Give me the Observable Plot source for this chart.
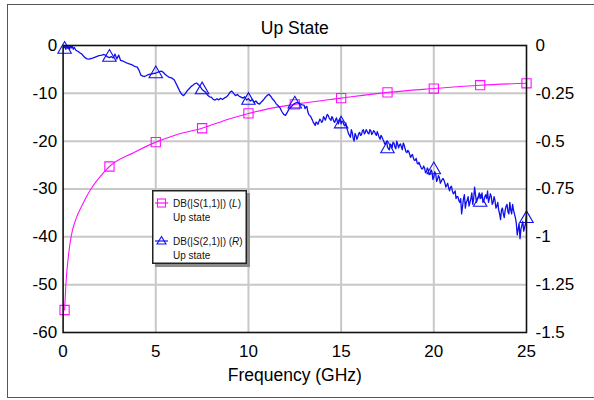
<!DOCTYPE html>
<html>
<head>
<meta charset="utf-8">
<script src="https://cdn.jsdelivr.net/npm/d3@7"></script>
<script src="https://cdn.jsdelivr.net/npm/@observablehq/plot@0.6"></script>
<style>
  html, body { margin: 0; padding: 0; background: #fff; overflow: hidden; }
  #wrap { position: relative; width: 594px; height: 400px; overflow: hidden; font-family: "Liberation Sans", Arial, Helvetica, sans-serif; }
  #border { position: absolute; left: 7px; top: 4px; width: 620px; height: 392px; border: 1.5px solid #555; box-sizing: content-box; }
  #chart { position: absolute; left: 0; top: 0; }
  #legend { position: absolute; left: 152px; top: 190px; }
</style>
</head>
<body>
<div id="wrap">
  <div id="border"></div>
  <div id="chart"></div>
  <div id="legend"></div>
</div>
<script>
// ---- Data ----
const titleText = "Up State";
const xLabel = "Frequency (GHz)";
const freqTicks = [0, 5, 10, 15, 20, 25];
const leftTicks = [0, -10, -20, -30, -40, -50, -60];
const rightTicks = [0, -0.25, -0.5, -0.75, -1, -1.25, -1.5];
const legendLabels = ["DB(|S(1,1)|) (L)", "DB(|S(2,1)|) (R)"];
const legendSub = "Up state";

// S11 in dB (left axis): [GHz, dB]
const s11 = [[0.08,-55.3],[0.15,-50],[0.3,-43.5],[0.45,-39.6],[0.7,-36.2],[1.0,-33.6],[1.5,-30],[2.0,-27.4],[2.5,-25.3],[3.8,-22.4],[5,-20.2],[6,-18.8],[7.5,-17.3],[9,-15.3],[10,-14.2],[11,-13.3],[12.5,-12.3],[15,-11.0],[17.5,-9.8],[20,-9.0],[22.5,-8.3],[25,-7.9]];
const s11Markers = [[0.08,-55.3],[2.5,-25.3],[5,-20.2],[7.5,-17.3],[10,-14.2],[12.5,-12.3],[15,-11.0],[17.5,-9.8],[20,-9.0],[22.5,-8.3],[25,-7.9]];

// S21 in dB (right axis): [GHz, dB] — main trace readings
const s21Main = [[0.02,-0.01],[0.05,-0.012],[0.1,0.0],[0.15,-0.02],[0.2,0.0],[0.25,-0.015],[0.3,-0.002],[0.35,-0.02],[0.4,0.0],[0.45,-0.012],[0.5,-0.005],[0.55,-0.02],[0.6,-0.01],[0.7,-0.026],[0.8,-0.03],[0.9,-0.038],[1.0,-0.044],[1.1,-0.055],[1.2,-0.065],[1.3,-0.07],[1.4,-0.071],[1.5,-0.068],[1.6,-0.066],[1.7,-0.062],[1.8,-0.058],[1.9,-0.054],[2.0,-0.052],[2.1,-0.05],[2.2,-0.047],[2.3,-0.052],[2.4,-0.06],[2.5,-0.063],[2.6,-0.058],[2.7,-0.065],[2.8,-0.045],[2.9,-0.07],[3.0,-0.05],[3.1,-0.078],[3.2,-0.08],[3.3,-0.085],[3.4,-0.09],[3.5,-0.094],[3.6,-0.097],[3.7,-0.1],[3.8,-0.106],[3.9,-0.11],[4.0,-0.113],[4.1,-0.13],[4.2,-0.155],[4.3,-0.16],[4.4,-0.162],[4.5,-0.157],[4.6,-0.152],[4.7,-0.15],[4.8,-0.148],[4.9,-0.146],[5.0,-0.145],[5.1,-0.14],[5.2,-0.136],[5.3,-0.134],[5.4,-0.14],[5.5,-0.15],[5.6,-0.158],[5.7,-0.165],[5.8,-0.168],[5.9,-0.172],[6.0,-0.18],[6.1,-0.2],[6.2,-0.22],[6.3,-0.24],[6.4,-0.255],[6.5,-0.262],[6.6,-0.25],[6.7,-0.236],[6.8,-0.226],[6.9,-0.215],[7.0,-0.208],[7.1,-0.2],[7.2,-0.196],[7.3,-0.205],[7.4,-0.215],[7.5,-0.23],[7.6,-0.238],[7.7,-0.245],[7.8,-0.26],[7.9,-0.268],[8.0,-0.27],[8.1,-0.282],[8.2,-0.285],[8.3,-0.278],[8.4,-0.284],[8.5,-0.276],[8.6,-0.282],[8.7,-0.274],[8.8,-0.27],[8.9,-0.26],[9.0,-0.245],[9.1,-0.238],[9.2,-0.25],[9.3,-0.262],[9.4,-0.256],[9.5,-0.265],[9.6,-0.27],[9.7,-0.275],[9.8,-0.268],[9.9,-0.285],[10.0,-0.278],[10.1,-0.29],[10.2,-0.282],[10.3,-0.298],[10.4,-0.29],[10.5,-0.302],[10.6,-0.306],[10.7,-0.295],[10.8,-0.285],[10.9,-0.272],[11.0,-0.262],[11.1,-0.255],[11.2,-0.265],[11.3,-0.28],[11.4,-0.29],[11.5,-0.305],[11.6,-0.315],[11.7,-0.325],[11.8,-0.345],[11.9,-0.36],[12.0,-0.365],[12.1,-0.348],[12.2,-0.33],[12.3,-0.322],[12.4,-0.31],[12.5,-0.302],[12.6,-0.298],[12.7,-0.3],[12.8,-0.306],[12.9,-0.31],[13.0,-0.312],[13.1,-0.322],[13.2,-0.345],[13.3,-0.365],[13.4,-0.38],[13.5,-0.402],[13.6,-0.418],[13.7,-0.405],[13.8,-0.398],[13.9,-0.39],[14.0,-0.395],[14.1,-0.38],[14.2,-0.375],[14.3,-0.365],[14.4,-0.385],[14.5,-0.372],[14.6,-0.395],[14.7,-0.388],[14.8,-0.4],[14.9,-0.395],[15.0,-0.41],[15.1,-0.398],[15.2,-0.42],[15.3,-0.43],[15.4,-0.462],[15.5,-0.48],[15.6,-0.455],[15.7,-0.5],[15.8,-0.47],[15.9,-0.478],[16.0,-0.455],[16.1,-0.465],[16.2,-0.44],[16.3,-0.455],[16.4,-0.448],[16.5,-0.462],[16.6,-0.445],[16.7,-0.458],[16.8,-0.45],[16.9,-0.47],[17.0,-0.465],[17.1,-0.49],[17.2,-0.478],[17.3,-0.5],[17.4,-0.51],[17.5,-0.53],[17.6,-0.545],[17.7,-0.52],[17.8,-0.505],[17.9,-0.53],[18.0,-0.5],[18.1,-0.535],[18.2,-0.515],[18.3,-0.545],[18.4,-0.52],[18.5,-0.555],[18.6,-0.548],[18.7,-0.57],[18.8,-0.575],[18.9,-0.59],[19.0,-0.6],[19.1,-0.615],[19.2,-0.61],[19.3,-0.635],[19.4,-0.645],[19.5,-0.64],[19.6,-0.66],[19.7,-0.65],[19.8,-0.672],[19.9,-0.66],[20.0,-0.688],[20.1,-0.67],[20.2,-0.7],[20.3,-0.69],[20.4,-0.71],[20.5,-0.695],[20.6,-0.72],[20.7,-0.73],[20.8,-0.745],[20.9,-0.74],[21.0,-0.76],[21.1,-0.77],[21.2,-0.8],[21.3,-0.79],[21.4,-0.82],[21.5,-0.88],[21.6,-0.8],[21.7,-0.85],[21.8,-0.81],[21.9,-0.84],[22.0,-0.8],[22.1,-0.83],[22.2,-0.74],[22.3,-0.82],[22.4,-0.79],[22.5,-0.8],[22.6,-0.77],[22.7,-0.81],[22.8,-0.78],[22.9,-0.76],[23.0,-0.8],[23.1,-0.79],[23.2,-0.82],[23.3,-0.81],[23.4,-0.84],[23.5,-0.86],[23.6,-0.91],[23.7,-0.85],[23.8,-0.9],[23.9,-0.84],[24.0,-0.87],[24.1,-0.82],[24.2,-0.88],[24.3,-0.86],[24.4,-0.9],[24.5,-0.99],[24.6,-0.93],[24.7,-0.96],[24.8,-0.92],[24.9,-0.95],[25.0,-0.87]];
// S21 — extra readings of the fine noise between the main readings (13–25 GHz)
const s21Noise = [[13.05,-0.33],[13.15,-0.318],[13.25,-0.36],[13.35,-0.37],[13.45,-0.39],[13.55,-0.41],[13.65,-0.4],[13.75,-0.412],[13.85,-0.385],[13.95,-0.402],[14.05,-0.372],[14.15,-0.39],[14.25,-0.36],[14.35,-0.378],[14.45,-0.392],[14.55,-0.38],[14.65,-0.402],[14.75,-0.378],[14.85,-0.41],[14.95,-0.385],[15.05,-0.395],[15.15,-0.415],[15.25,-0.405],[15.35,-0.445],[15.45,-0.47],[15.55,-0.44],[15.65,-0.485],[15.75,-0.46],[15.85,-0.49],[15.95,-0.46],[16.05,-0.47],[16.15,-0.445],[16.25,-0.462],[16.35,-0.44],[16.45,-0.458],[16.55,-0.44],[16.65,-0.465],[16.75,-0.445],[16.85,-0.462],[16.95,-0.45],[17.05,-0.48],[17.15,-0.47],[17.25,-0.49],[17.35,-0.515],[17.45,-0.5],[17.55,-0.54],[17.65,-0.515],[17.75,-0.535],[17.85,-0.51],[17.95,-0.54],[18.05,-0.515],[18.15,-0.52],[18.25,-0.53],[18.35,-0.51],[18.45,-0.54],[18.55,-0.56],[18.65,-0.555],[18.75,-0.585],[18.85,-0.57],[18.95,-0.6],[19.05,-0.59],[19.15,-0.62],[19.25,-0.625],[19.35,-0.645],[19.45,-0.63],[19.55,-0.665],[19.65,-0.64],[19.75,-0.675],[19.85,-0.65],[19.95,-0.7],[20.05,-0.66],[20.15,-0.71],[20.25,-0.68],[20.35,-0.72],[20.45,-0.7],[20.55,-0.705],[20.65,-0.74],[20.75,-0.72],[20.85,-0.76],[20.95,-0.735],[21.05,-0.775],[21.15,-0.76],[21.25,-0.79],[21.35,-0.81],[21.45,-0.8],[21.55,-0.84],[21.65,-0.78],[21.75,-0.82],[21.85,-0.79],[21.95,-0.82],[22.05,-0.77],[22.15,-0.8],[22.25,-0.78],[22.35,-0.8],[22.45,-0.77],[22.55,-0.795],[22.65,-0.82],[22.75,-0.79],[22.85,-0.8],[22.95,-0.82],[23.05,-0.775],[23.15,-0.83],[23.25,-0.79],[23.35,-0.85],[23.45,-0.82],[23.55,-0.88],[23.65,-0.86],[23.75,-0.88],[23.85,-0.86],[23.95,-0.83],[24.05,-0.88],[24.15,-0.86],[24.25,-0.83],[24.35,-0.88],[24.45,-0.93],[24.55,-0.96],[24.65,-1.01],[24.75,-0.94],[24.85,-0.97],[24.95,-0.93]];
const s21Markers = [[0.08,-0.02],[2.5,-0.062],[5,-0.148],[7.5,-0.232],[10,-0.287],[12.5,-0.306],[15,-0.41],[17.5,-0.54],[20,-0.65],[22.5,-0.82],[25,-0.905]];

// ---- Styles ----
const magenta = "#ff10ff";
const blue = "#1010ee";
const gridColor = "#c8c8c8";
const ratio = 40; // right axis (−1.5..0) mapped onto left axis (−60..0)
const fmt = v => String(+v.toFixed(2));
const s21 = [...s21Main, ...s21Noise].sort((a, b) => a[0] - b[0]);

const chart = Plot.plot({
  width: 594,
  height: 400,
  marginLeft: 62.6,
  marginRight: 68,
  marginTop: 45,
  marginBottom: 68,
  style: { fontFamily: "'Liberation Sans', Arial, Helvetica, sans-serif", fontSize: "17px", background: "transparent", color: "#000" },
  x: { domain: [0, 25] },
  y: { domain: [-60, 0] },
  marks: [
    Plot.gridX(freqTicks.slice(1, -1), { stroke: gridColor, strokeOpacity: 1, strokeWidth: 2 }),
    Plot.gridY(leftTicks.slice(1, -1), { stroke: gridColor, strokeOpacity: 1, strokeWidth: 2 }),
    Plot.line(s11, { x: d => d[0], y: d => d[1], stroke: magenta, strokeWidth: 1.1, curve: "monotone-x" }),
    Plot.dot(s11Markers, { x: d => d[0], y: d => d[1], symbol: "square", r: 5.2, stroke: magenta, fill: "none", strokeWidth: 1.1 }),
    Plot.line(s21, { x: d => d[0], y: d => d[1] * ratio, stroke: blue, strokeWidth: 1.3, clip: true }),
    Plot.dot(s21Markers, { x: d => d[0], y: d => d[1] * ratio, symbol: "triangle", r: 5, stroke: blue, fill: "none", strokeWidth: 1.1 }),
    Plot.frame({ stroke: "#111", strokeWidth: 1.6 }),
    Plot.axisX(freqTicks, { tickSize: 0, tickPadding: 12, label: null, tickFormat: d => String(d), fontSize: 17 }),
    Plot.axisY(leftTicks, { anchor: "left", tickSize: 0, tickPadding: 6, label: null, tickFormat: d => String(d), fontSize: 17 }),
    Plot.axisY(rightTicks.map(v => v * ratio), { anchor: "right", tickSize: 0, tickPadding: 9, label: null, tickFormat: d => fmt(d / ratio), fontSize: 17 }),
    Plot.text([titleText], { frameAnchor: "top", lineAnchor: "middle", text: d => d, dy: -17.5, fontSize: 17.5 }),
    Plot.text([xLabel], { frameAnchor: "bottom", lineAnchor: "middle", text: d => d, dy: 43, fontSize: 17.5 })
  ]
});
document.getElementById("chart").appendChild(chart);

// ---- Legend ----
const lw = 95, lh = 74;
const lg = d3.select("#legend").append("svg")
  .attr("width", lw + 4).attr("height", lh + 4)
  .style("font-family", "'Liberation Sans', Arial, Helvetica, sans-serif")
  .style("font-size", "10px");
lg.append("rect").attr("x", 3).attr("y", 3).attr("width", lw).attr("height", lh).attr("fill", "#8a8a8a");
lg.append("rect").attr("x", 0.75).attr("y", 0.75).attr("width", lw - 1.5).attr("height", lh - 1.5)
  .attr("fill", "#fff").attr("stroke", "#222").attr("stroke-width", 1.5);

function entry(y0, color, shape, label) {
  lg.append("line").attr("x1", 3).attr("x2", 16).attr("y1", y0).attr("y2", y0).attr("stroke", color).attr("stroke-width", 1.2);
  if (shape === "square") {
    lg.append("rect").attr("x", 5.5).attr("y", y0 - 4).attr("width", 8).attr("height", 8).attr("fill", "none").attr("stroke", color).attr("stroke-width", 1.1);
  } else {
    lg.append("path").attr("d", `M${9.5},${y0 - 4.5}L${14},${y0 + 3}L${5},${y0 + 3}Z`).attr("fill", "none").attr("stroke", color).attr("stroke-width", 1.1);
  }
  const t = lg.append("text").attr("x", 21).attr("y", y0 + 4).attr("fill", "#111");
  const m = label.match(/^(DB\(\|)(S)(\(\d,\d\)\|\) \()([LR])(\))$/);
  t.append("tspan").text(m[1]);
  t.append("tspan").attr("font-style", "italic").text(m[2]);
  t.append("tspan").text(m[3]);
  t.append("tspan").attr("font-style", "italic").text(m[4]);
  t.append("tspan").text(m[5]);
  lg.append("text").attr("x", 21).attr("y", y0 + 18).attr("fill", "#111").text(legendSub);
}
entry(13, magenta, "square", legendLabels[0]);
entry(51, blue, "triangle", legendLabels[1]);
</script>
</body>
</html>
